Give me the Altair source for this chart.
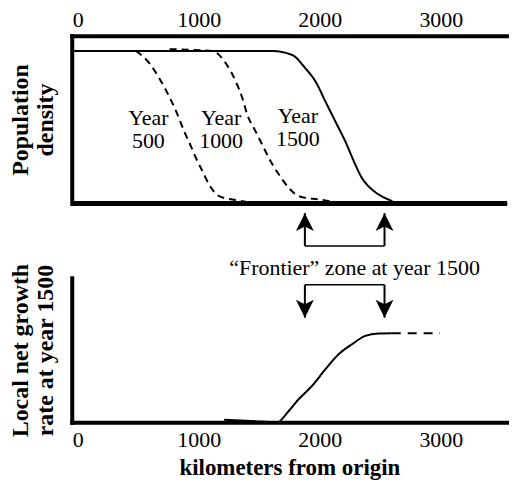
import altair as alt
import pandas as pd

SERIF = "Liberation Serif"

# ---------------- data (km from origin) ----------------
tick_km = [0, 1000, 2000, 3000]

y1500_km = [-49, 1608, 1772, 1882, 1965, 2047, 2129, 2211, 2294, 2348, 2403, 2486, 2568, 2650, 2800]
y1500_d = [1.0, 1.0, 0.974, 0.886, 0.80, 0.668, 0.537, 0.406, 0.253, 0.166, 0.111, 0.057, 0.024, 0.0, 0.0]

y1000_km = [760, 1114, 1224, 1306, 1361, 1402, 1471, 1525, 1594, 1663, 1745, 1827, 1992, 2129]
y1000_d = [1.012, 1.0, 0.919, 0.80, 0.69, 0.58, 0.47, 0.384, 0.275, 0.188, 0.10, 0.046, 0.024, 0.008]

y500_km = [483, 593, 675, 757, 826, 881, 936, 977, 1031, 1086, 1169, 1278, 1388]
y500_d = [1.0, 0.919, 0.82, 0.70, 0.58, 0.47, 0.373, 0.297, 0.21, 0.122, 0.046, 0.024, 0.01]

year_labels = ["Year\n500", "Year\n1000", "Year\n1500"]
year_label_km = [584, 1185, 1819]
year_label_d = [0.56, 0.56, 0.573]

growth_km = [1210, 1430, 1649, 1740, 1827, 1937, 2047, 2156, 2266, 2376, 2486, 2595]
growth_g = [0.018, 0.009, 0.0, 0.075, 0.161, 0.253, 0.368, 0.471, 0.54, 0.598, 0.614, 0.616]
growth_dash_km = [2595, 2993]
growth_dash_g = [0.616, 0.616]

frontier_km = [1877, 2535]
frontier_label = "\u201cFrontier\u201d zone at year 1500"
frontier_label_km = 2288
frontier_label_g = 1.069
up_tip_g, up_base_g = 1.448, 1.221
down_base_g, down_tip_g = 0.952, 0.724

# ---------------- tables ----------------
dens = pd.concat([
    pd.DataFrame({"km": y500_km, "d": y500_d, "year": "500", "style": "dashed"}),
    pd.DataFrame({"km": y1000_km, "d": y1000_d, "year": "1000", "style": "dashed"}),
    pd.DataFrame({"km": y1500_km, "d": y1500_d, "year": "1500", "style": "solid"}),
], ignore_index=True)
ylab = pd.DataFrame({"km": year_label_km, "d": year_label_d, "t": year_labels})
grow = pd.DataFrame({"km": growth_km, "g": growth_g})
grow_d = pd.DataFrame({"km": growth_dash_km, "g": growth_dash_g})
shafts = pd.DataFrame({
    "km": frontier_km * 2,
    "g": [up_base_g] * 2 + [down_base_g] * 2,
    "g2": [up_tip_g] * 2 + [down_tip_g] * 2,
})
conn = pd.DataFrame({"km": [frontier_km[0]] * 2, "km2": [frontier_km[1]] * 2,
                     "g": [up_base_g, down_base_g]})
heads_df = pd.DataFrame({"km": frontier_km * 2, "g": [up_tip_g] * 2 + [down_tip_g] * 2,
                         "dir": ["up", "up", "down", "down"]})
flab = pd.DataFrame({"km": [frontier_label_km], "g": [frontier_label_g], "t": [frontier_label]})

W = 437
x_scale = alt.Scale(domain=[-49, 3547], nice=False, zero=False)
d_scale = alt.Scale(domain=[0, 1.1], nice=False, zero=False)
g_scale = alt.Scale(domain=[0, 1], nice=False, zero=False)

UP = "M0,0 L0.5,1 L0,0.75 L-0.5,1 Z"
DOWN = "M0,0 L0.5,-1 L0,-0.75 L-0.5,-1 Z"

# ---------------- top panel ----------------
top_x_axis = alt.Axis(orient="top", values=tick_km, format="d", title=None, ticks=False,
                      grid=False, labelFont=SERIF, labelFontSize=22, labelColor="black",
                      labelPadding=4, labelFlush=False, domainWidth=4, domainColor="black",
                      domainCap="square")
top_y_axis = alt.Axis(title=["Population", "density"], ticks=False, labels=False, grid=False,
                      domainWidth=4, domainColor="black", domainCap="square",
                      titleFont=SERIF, titleFontSize=24, titleFontWeight="bold",
                      titleColor="black", titleLineHeight=25, titlePadding=14)

X_top = alt.X("km:Q", scale=x_scale, axis=top_x_axis, title=None)
Y_top = alt.Y("d:Q", scale=d_scale, axis=top_y_axis, title=["Population", "density"])

curves = alt.Chart(dens).mark_line(color="black", strokeWidth=2, interpolate="monotone").encode(
    x=X_top, y=Y_top,
    detail="year:N",
    strokeDash=alt.StrokeDash("style:N", scale=alt.Scale(domain=["solid", "dashed"],
                                                          range=[[1, 0], [7, 5]]), legend=None),
)
bottom_border = alt.Chart(dens).mark_rule(color="black", strokeWidth=4).encode(
    y=alt.YDatum(0, scale=d_scale, axis=top_y_axis, title=["Population", "density"]),
)
year_text = alt.Chart(ylab).mark_text(font=SERIF, fontSize=22, color="black",
                                      lineBreak="\n", lineHeight=23, baseline="middle",
                                      align="center").encode(
    x=X_top, y=Y_top, text="t:N")

top = alt.layer(curves, bottom_border, year_text).properties(width=W, height=168)

# ---------------- bottom panel ----------------
bot_x_axis = alt.Axis(orient="bottom", values=tick_km, format="d", title="kilometers from origin",
                      ticks=False, grid=False, labelFont=SERIF, labelFontSize=22,
                      labelColor="black", labelPadding=7, labelFlush=False, domainWidth=4,
                      domainColor="black", domainCap="square", titleFont=SERIF,
                      titleFontSize=23, titleFontWeight="bold", titleColor="black",
                      titlePadding=6)
bot_y_axis = alt.Axis(title=["Local net growth", "rate at year 1500"], ticks=False, labels=False,
                      grid=False, domainWidth=4, domainColor="black", domainCap="square",
                      titleFont=SERIF, titleFontSize=24, titleFontWeight="bold",
                      titleColor="black", titleLineHeight=25, titlePadding=14)

X_bot = alt.X("km:Q", scale=x_scale, axis=bot_x_axis, title="kilometers from origin")
Y_bot = alt.Y("g:Q", scale=g_scale, axis=bot_y_axis, title=["Local net growth", "rate at year 1500"])

g_line = alt.Chart(grow).mark_line(color="black", strokeWidth=2, interpolate="monotone").encode(
    x=X_bot, y=Y_bot)
g_dash = alt.Chart(grow_d).mark_line(color="black", strokeWidth=2, strokeDash=[9, 7]).encode(
    x=X_bot, y=Y_bot)
shaft = alt.Chart(shafts).mark_rule(color="black", strokeWidth=2).encode(
    x=X_bot, y=Y_bot, y2="g2:Q")
heads = alt.Chart(heads_df).mark_point(filled=True, color="black", size=1296, opacity=1,
                                       strokeWidth=0).encode(
    x=X_bot, y=Y_bot,
    shape=alt.Shape("dir:N", scale=alt.Scale(domain=["up", "down"], range=[UP, DOWN]),
                    legend=None))
connectors = alt.Chart(conn).mark_rule(color="black", strokeWidth=1.5).encode(
    x=X_bot, x2="km2:Q", y=Y_bot)
f_text = alt.Chart(flab).mark_text(font=SERIF, fontSize=22, color="black",
                                   baseline="middle", align="center").encode(
    x=X_bot, y=Y_bot, text="t:N")

bottom = alt.layer(g_line, g_dash, shaft, heads, connectors, f_text).properties(width=W, height=145)

chart = alt.vconcat(top, bottom, spacing=5).properties(
    padding={"left": 0, "top": 0, "right": 0, "bottom": 0}
).configure_view(stroke=None)

chart.save("out.html", embed_options={"renderer": "svg", "actions": False})
